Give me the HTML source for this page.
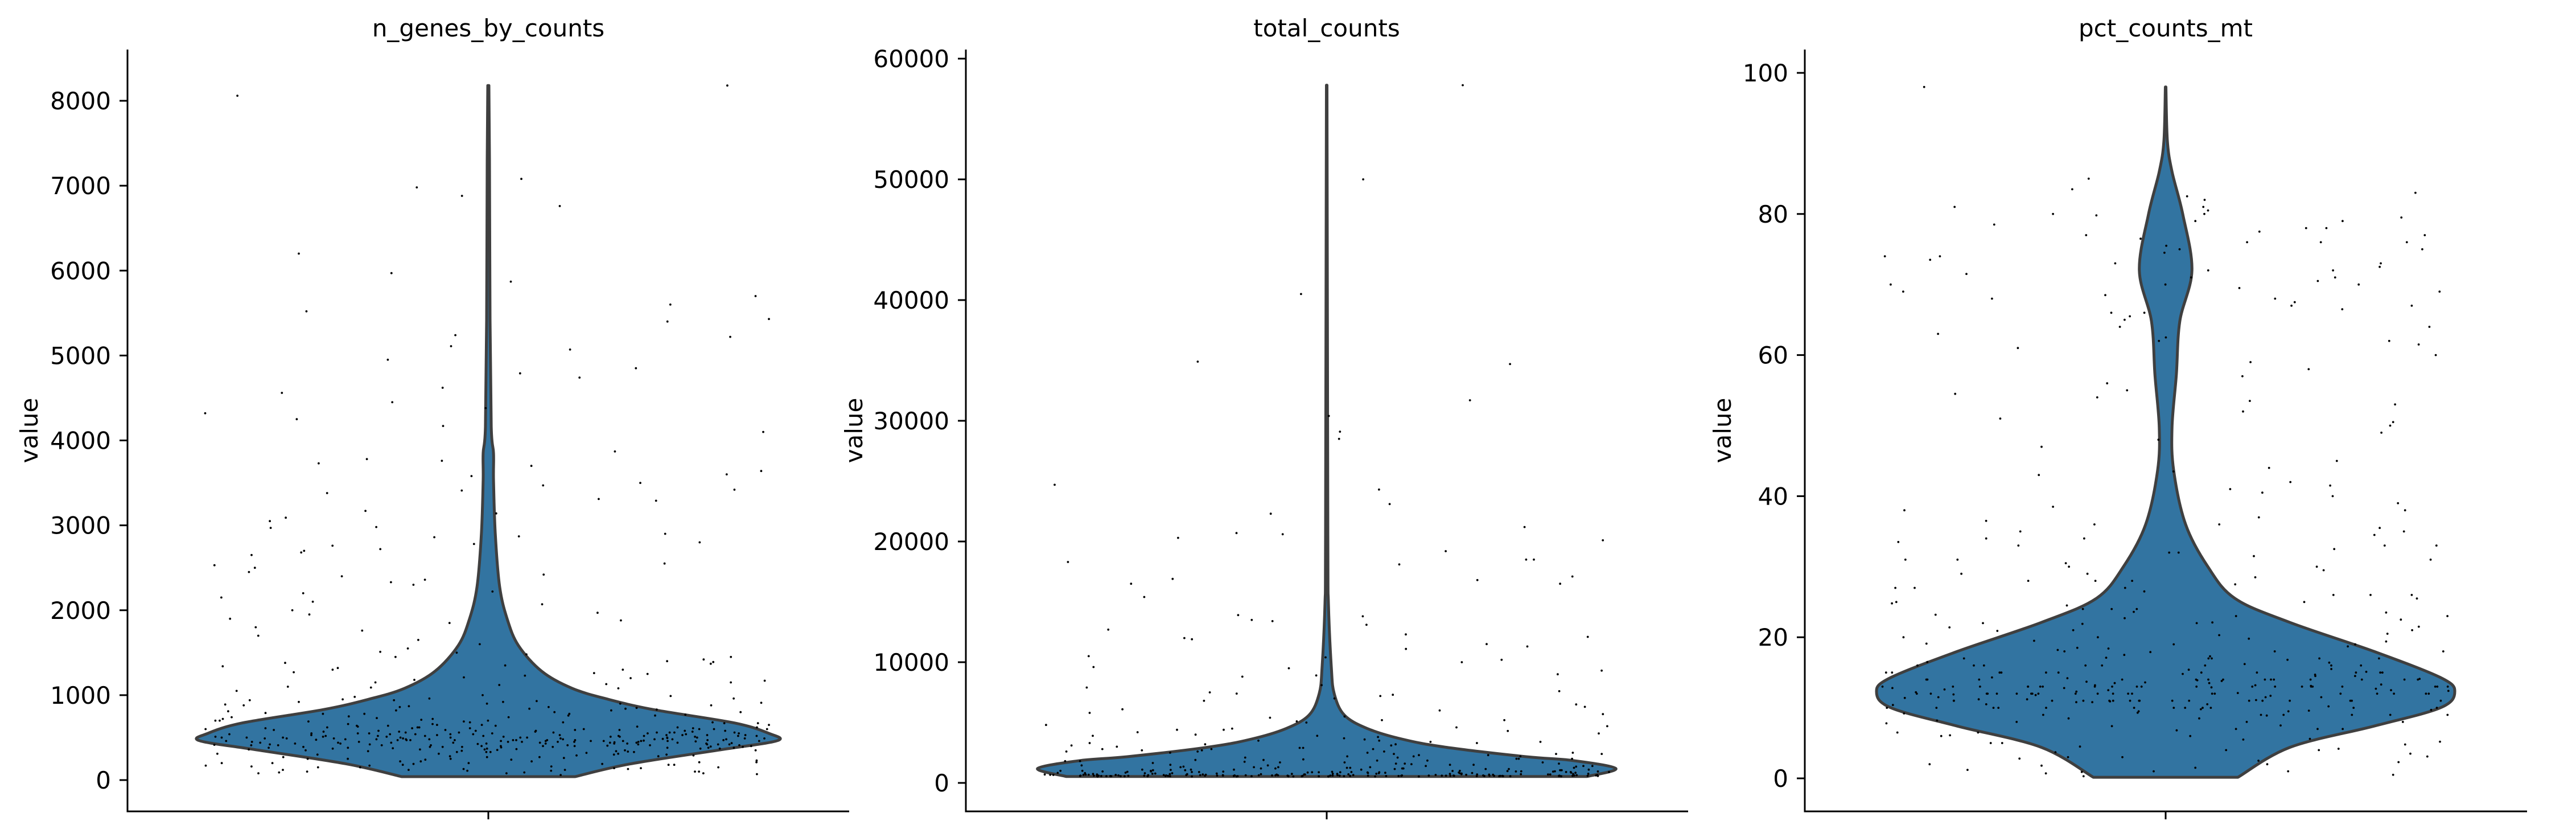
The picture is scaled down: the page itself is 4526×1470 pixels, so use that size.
<!DOCTYPE html>
<html><head><meta charset="utf-8"><style>
html,body{margin:0;padding:0;background:#fff;}
svg{display:block;font-family:"DejaVu Sans","Liberation Sans",sans-serif;}
</style></head><body>
<svg id="chart" width="4526" height="1470" viewBox="0 0 4526 1470" xmlns="http://www.w3.org/2000/svg"></svg>
<script>
// ---------- data ----------
const titles = ["n_genes_by_counts", "total_counts", "pct_counts_mt"];
const ticks1 = [0,1000,2000,3000,4000,5000,6000,7000,8000];
const ticks2 = [0,10000,20000,30000,40000,50000,60000];
const ticks3 = [0,20,40,60,80,100];
// violin profiles (value, relative density)
const prof1Vals = [40,190,360,465,550,673,830,955,1080,1280,1585,1900,2280,2900,3530,3850,4160,5420,7300,8180];
const prof1Dens = [0.30,0.49,0.81,1,0.97,0.85,0.57,0.41,0.29,0.185,0.104,0.065,0.039,0.024,0.018,0.018,0.01,0.006,0.004,0.002];
const prof2Vals = [530,1195,1860,2170,2960,3630,4510,5620,7390,9600,14900,20700,57800];
const prof2Dens = [0.90,1,0.85,0.69,0.41,0.26,0.14,0.061,0.026,0.016,0.006,0.004,0.001];
const prof3Vals = [0.15,4.4,7.4,10,12.3,14.3,18,22.1,25.5,30,36,43.6,49.7,57.2,64.8,72,80,86,90.4,98];
const prof3Dens = [0.25,0.43,0.72,0.95,1,0.95,0.72,0.43,0.24,0.146,0.069,0.028,0.022,0.037,0.049,0.091,0.059,0.022,0.006,0.001];
// observed cell values (jittered horizontally)
const pts1 = [8180,8060,7080,6980,6880,6760,6200,5970,5870,5700,5600,5520,5430,5400,5240,5220,5110,5070,4950,4850,4790,4740,4620,4560,4450,4380,4320,4250,4170,4100,3870,3780,3760,3730,3700,3640,3600,3580,3500,3470,3420,3410,3380,3310,3290,3170,3140,3090,3050,2980,2970,2900,2870,2860,2800,2780,2760,2720,2700,2680,2650,2550,2530,2500,2450,2420,2400,2360,2330,2300,2220,2200,2150,2100,2070,2000,1970,1950,1900,1880,1850,1800,1760,1700,1650,1600,1550,1500,1450,1400,1380,1350,1300,1250,1200,1150,1100,1050,1000,980,960,940,920,900,880,860,840,820,800,780,760,740,720,700,690,680,670,660,650,640,630,620,610,600,590,580,570,560,550,540,530,520,510,500,495,490,485,480,475,470,465,460,455,450,445,440,435,430,425,420,415,410,405,400,395,390,385,380,375,370,365,360,355,350,345,340,335,330,320,310,300,290,280,270,260,250,240,230,220,210,200,190,180,170,160,150,140,130,120,110,100,90,80,70,60,520,480,430,610,570,390,460,540,500,410,630,470,350,590,450,520,380,560,440,490,600,420,510,470,530,400,550,460,580,430,500,370,620,480,540,450,510,390,570,470,440,530,490,410,600,460,520,380,560,500,430,550,470,580,420,510,450,540,490,400,610,470,530,440,560,500,460,520,480,650,700,750,800,680,720,660,740,780,640,360,330,300,280,250,220,200,180,150,120,100,80,
 1450,1320,1180,1260,1120,1390,1080,1230,1510,1170,1340,1090,1420,1270,1150,1370,1210,1480,1130,1300,
 470,520,410,560,450,390,610,480,530,440,500,370,580,460,420,550,490,400,640,510,430,470,560,380,520,450,600,410,490,540,460,500,420,570,440,480,530,390,510,470,550,430,590,460,500,410,620,480,440,530,
 350,300,620,710,580,330,490,760,410,550,270,680,440,520,360,600,390,730,470,310,650,430,540,380,700,460,340,590,500,420,670,290,560,450,620,370,510,480,690,400,
 240,180,130,90,310,220,160,110,270,200,140,100,250,190,150,330,210,170,120,80,
 850,920,780,870,960,820,900,810,940,860,770,910,830,990,880,790,950,840,890,930];
const pts2 = [57800,50000,40500,34900,34700,31700,30400,29100,28500,24700,24300,23100,22300,21200,20700,20600,20300,20100,19200,18500,18500,18300,18100,17100,16900,16800,16500,16500,15400,13900,13800,13500,13400,13100,12700,12300,12100,12000,11900,11500,11300,11100,10500,10400,10200,10000,9600,9500,9300,9000,8900,8800,8100,7900,7600,7500,7400,7300,7200,7000,6800,6500,6300,6100,6000,5800,5700,5500,5400,5200,5100,5000,4800,4600,4500,4400,4300,4100,4000,3900,3700,3500,3400,3300,3200,3100,3000,2900,2800,2700,2600,2500,2400,2300,2200,2100,2000,1950,1900,1850,1800,1750,1700,1650,1600,1550,1500,1450,1400,1350,1300,1250,1200,1150,1100,1050,1000,980,960,940,920,900,880,860,840,820,800,780,760,740,720,700,690,680,670,660,650,640,630,620,610,600,590,580,570,560,550,540,530,1200,900,700,1500,800,650,1100,950,600,1800,750,1300,850,620,1000,2200,700,900,560,1400,800,660,1100,1700,580,950,720,1250,640,880,2500,600,1050,780,540,1350,690,920,1600,610,830,1150,570,740,2000,680,990,560,870,1450,620,760,1050,590,2800,700,940,1200,550,810,650,1000,3100,720,580,900,1300,630,840,560,1150,700,2400,600,960,760,1900,540,880,670,1080,3500,620,
 620,580,710,560,650,900,540,760,600,1000,680,570,820,640,590,730,550,1100,670,610,580,860,630,700,560,950,600,780,540,660,1200,590,720,570,640,880,610,750,550,690,
 3200,2700,3900,2300,4200,2600,3600,2100,4700,2900,3300,2500,5200,2400,3800,2800,4400,2200,3400,2600,
 800,1300,700,1700,900,1500,650,1100,2000,750,1250,600,950,1850,700,1400,850,1600,560,1050,
 560,600,580,620,560,590,640,570,610,550,600,580,630,560,590,570,620,540,610,580,600,560,590,570,620,550,580,600,560,610];
const pts3 = [98,85,83.5,83,82.5,82,81,80.5,80,79.8,79.5,79,78.5,78,77.5,77,76.5,76,75.5,75,74.5,74,73.5,73,72.5,72,71.5,71,70.5,70,69.5,69,68.5,68,67.5,67,66.5,66,65.5,65,64,63,62.5,62,61.5,61,60,59,58,57,56,55,54.5,54,53.5,53,52,51,50.5,50,49,48,47,45,44,43.5,43,42,41.5,41,40.5,40,39,38.5,38,37,36.5,36,35.5,35,34.5,34,33.5,33,32.5,32,31.5,31,30.5,30,29.5,29,28.5,28,27.5,27,26.5,26,25.5,25,24.5,24,23.5,23,22.5,22,21.5,21,20.5,20,19.5,19,18.5,18,17.5,17,16.5,16,15.5,15,14.8,14.5,14.2,14,13.8,13.5,13.2,13,12.8,12.5,12.2,12,11.8,11.5,11.2,11,10.8,10.5,10.2,10,9.8,9.5,9.2,9,8.5,8,7.5,7,6.5,6,5.5,5,4.5,4,3.5,3,2.5,2,1.5,1,0.5,0.3,13,11,15,12,10,14,9,16,12.5,11.5,13.5,10.5,14.5,8.5,17,12,13,11,15,10,14,9.5,16,12,13,11,18,10,14,12,7,15,13,11,19,12,9,14,13,10,16,12,11,15,8,13,12,14,10,17,11,13,6,12,15,9,14,11,13,20,12,10,16,13,11,14,12,8,15,13,21,11,12,14,10,13,7,16,12,11,15,13,9,14,12,22,10,13,11,17,12,14,5,13,11,15,12,10,16,13,24,11,14,12,9,13,15,11,12,18,13,10,14,4,12,16,11,13,3,15,12,14,10,2,13,11,1,12,17,13,
 78,74,70,68,66,79,72,76,69,75,71,80,67,73,77,64,81,70,62,76,
 31,28,33,26,35,29,24,32,27,34,30,25,36,28,23,33,27,31,26,38,
 12.4,13.1,11.7,14.3,10.9,12.8,13.6,11.2,15.1,12.1,9.7,13.9,11.5,14.7,12.6,10.4,13.3,11.9,16.2,12.3,10.8,14.1,11.4,13.7,12.9,9.3,15.4,11.1,13.2,12.7,
 6.8,4.2,8.9,3.1,7.4,5.6,2.3,9.6,0.7,6.1,4.8,1.8,8.2,3.7,5.2,0.9,7.8,2.8,6.5,1.2,
 18.7,21.4,17.3,23.6,19.8,16.4,22.1,20.3,17.9,24.8,19.1,21.9,16.8,18.2,22.7,20.9,17.1,19.4,23.2,18.4];

// ---------- layout ----------
const panels = [
  {x0:224, x1:1492, cx:858, y0:1370, yTop:177, vTop:8000, ticks:ticks1, pv:prof1Vals, pd:prof1Dens, pts:pts1, ylx:51},
  {x0:1697, x1:2966, cx:2331, y0:1375, yTop:103, vTop:60000, ticks:ticks2, pv:prof2Vals, pd:prof2Dens, pts:pts2, ylx:1500},
  {x0:3171, x1:4440, cx:3805, y0:1367, yTop:128, vTop:100, ticks:ticks3, pv:prof3Vals, pd:prof3Dens, pts:pts3, ylx:3026}
];
const AX_TOP = 87, AX_BOT = 1425, HW = 508;
const svg = document.getElementById('chart');
const NS = 'http://www.w3.org/2000/svg';
function mk(tag, attrs, parent) {
  const e = document.createElementNS(NS, tag);
  for (const k in attrs) e.setAttribute(k, attrs[k]);
  (parent || svg).appendChild(e);
  return e;
}
function smooth(pts) {
  // Catmull-Rom through points -> cubic bezier segments
  let d = '';
  for (let i = 0; i < pts.length - 1; i++) {
    const p0 = pts[Math.max(0, i - 1)], p1 = pts[i], p2 = pts[i + 1], p3 = pts[Math.min(pts.length - 1, i + 2)];
    const c1 = [p1[0] + (p2[0] - p0[0]) / 6, p1[1] + (p2[1] - p0[1]) / 6];
    const c2 = [p2[0] - (p3[0] - p1[0]) / 6, p2[1] - (p3[1] - p1[1]) / 6];
    d += 'C' + c1[0].toFixed(1) + ',' + c1[1].toFixed(1) + ' ' + c2[0].toFixed(1) + ',' + c2[1].toFixed(1) + ' ' + p2[0].toFixed(1) + ',' + p2[1].toFixed(1);
  }
  return d;
}
function jit(i, k) {
  let h = Math.sin((i + 1) * 12.9898 + k * 78.233) * 43758.5453;
  return (h - Math.floor(h)) * 2 - 1;
}

panels.forEach((p, pi) => {
  const y = v => p.y0 - v * (p.y0 - p.yTop) / p.vTop;
  const g = mk('g', {});
  
  

  // violin
  const right = p.pv.map((v, i) => [p.cx + p.pd[i] * HW, y(v)]);
  const left = p.pv.map((v, i) => [p.cx - p.pd[i] * HW, y(v)]).reverse();
  const d = 'M' + right[0][0].toFixed(1) + ',' + right[0][1].toFixed(1) + smooth(right) +
            'L' + left[0][0].toFixed(1) + ',' + left[0][1].toFixed(1) + smooth(left) + 'Z';
  const vio = mk('path', {d: d, fill: '#3274a1', stroke: '#3f3f3f', 'stroke-width': 5, 'stroke-linejoin': 'round'}, g);
  
  

  // points
  const pg = mk('g', {fill: '#000'}, g);
  
  
  p.pts.forEach((v, i) => {
    const j = jit(i, pi);
    const c = mk('circle', {cx: (p.cx + j * HW * 0.98).toFixed(1), cy: y(v).toFixed(1), r: 1.9}, pg);
    
    
  });

  // axes
  const ya = mk('line', {x1: p.x0, y1: AX_TOP, x2: p.x0, y2: AX_BOT + 1.5, stroke: '#000', 'stroke-width': 3}, g);
  
  
  const xa = mk('line', {x1: p.x0 - 1.5, y1: AX_BOT, x2: p.x1, y2: AX_BOT, stroke: '#000', 'stroke-width': 3}, g);
  
  
  const xt = mk('line', {x1: p.cx, y1: AX_BOT, x2: p.cx, y2: AX_BOT + 14, stroke: '#000', 'stroke-width': 3}, g);
  
  

  p.ticks.forEach(t => {
    const ty = y(t);
    const tl = mk('line', {x1: p.x0 - 14, y1: ty, x2: p.x0, y2: ty, stroke: '#000', 'stroke-width': 3}, g);
    
    
    const tx = mk('text', {x: p.x0 - 29, y: ty + 15, 'text-anchor': 'end', 'font-size': 42, fill: '#000'}, g);
    tx.textContent = String(t);
    
    
  });

  const tt = mk('text', {x: p.cx, y: 64, 'text-anchor': 'middle', 'font-size': 42, fill: '#000'}, g);
  tt.textContent = titles[pi];
  
  

  const yl = mk('text', {x: 0, y: 0, 'text-anchor': 'middle', 'font-size': 42, fill: '#000',
    transform: 'translate(' + (p.ylx + 15) + ',756) rotate(-90)'}, g);
  yl.textContent = 'value';
  
  
});
</script>
</body></html>
